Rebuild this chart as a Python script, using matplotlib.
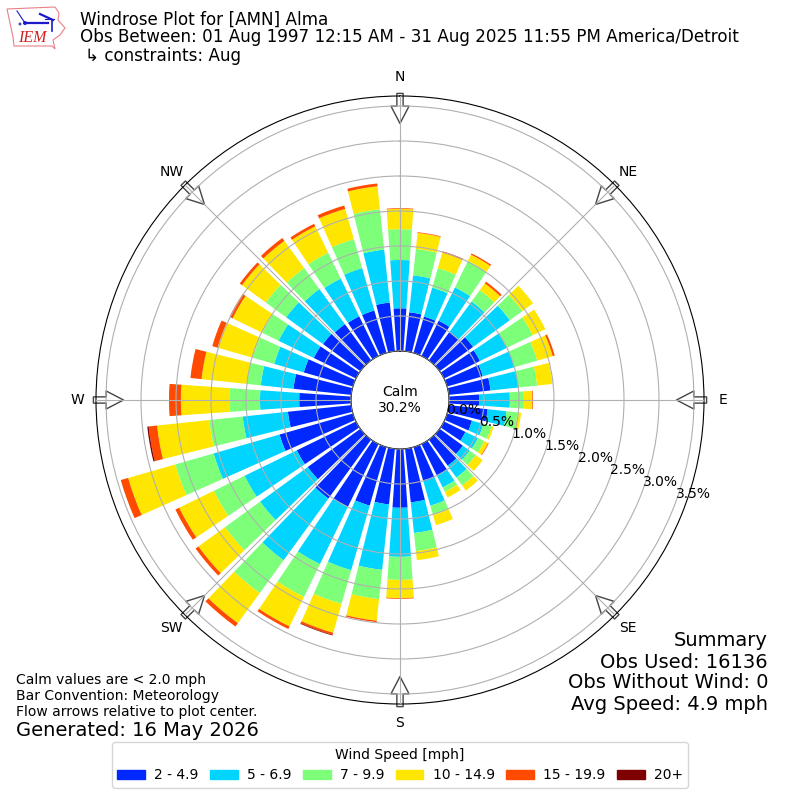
import numpy as np
import matplotlib
matplotlib.use("Agg")
import matplotlib.pyplot as plt
from matplotlib.patches import Patch, Polygon, Circle

directions = list(range(0, 360, 10))
# cumulative percent of observations at or below each speed class, per direction
cum_2_49 = [.61,.56,.54,.56,.50,.59,.57,.53,.60,.43,.56,.37,.34,.41,.46,.50,.51,.77,
            .84,.80,.87,1.00,1.04,.93,.94,1.09,.91,.74,.83,.73,.67,.66,.64,.63,.63,.70]
cum_5_69 = [1.30,1.09,.97,1.09,1.04,1.24,1.00,1.00,1.00,.87,.83,.54,.54,.53,.67,.69,.87,1.21,
            1.54,1.74,1.83,1.91,2.13,1.77,1.77,2.07,1.56,1.30,1.30,1.17,1.23,1.31,1.26,1.23,1.26,1.46]
cum_7_99 = [1.74,1.47,1.26,1.51,1.24,1.46,1.41,1.34,1.27,1.07,.99,.66,.64,.64,.81,.76,1.01,1.47,
            1.87,2.16,2.33,2.43,2.71,2.39,2.26,2.64,2.04,1.74,1.50,1.49,1.49,1.67,1.63,1.64,1.69,2.04]
cum_10_149 = [2.03,1.70,1.49,1.61,1.36,1.65,1.61,1.57,1.49,1.19,1.04,.69,.70,.76,.90,.85,1.16,1.60,
              2.13,2.47,2.76,2.90,3.24,2.86,2.81,3.34,2.79,2.43,2.15,2.01,1.96,2.09,2.11,2.06,2.14,2.37]
cum_15_199 = [2.04,1.71,1.51,1.63,1.39,1.65,1.61,1.60,1.49,1.20,1.04,.69,.71,.76,.90,.85,1.16,1.60,
              2.14,2.49,2.79,2.94,3.30,2.91,2.87,3.45,2.91,2.60,2.31,2.09,2.01,2.13,2.16,2.10,2.19,2.41]
cum_20 = [2.04,1.71,1.51,1.63,1.39,1.65,1.61,1.60,1.49,1.20,1.04,.69,.71,.76,.90,.85,1.16,1.60,
          2.14,2.49,2.80,2.94,3.30,2.91,2.87,3.45,2.93,2.60,2.31,2.09,2.01,2.13,2.16,2.10,2.19,2.41]
speed_labels = ["2 - 4.9", "5 - 6.9", "7 - 9.9", "10 - 14.9", "15 - 19.9", "20+"]
speed_colors = ["#0028ff", "#00d4ff", "#7dff7a", "#ffe600", "#ff4a00", "#7f0000"]
ring_ticks = [0, .5, 1, 1.5, 2, 2.5, 3, 3.5]
compass = ["N", "NE", "E", "SE", "S", "SW", "W", "NW"]

fig = plt.figure(figsize=(8, 8), dpi=100)
ax = fig.add_axes([96/800, 96/800, 608/800, 608/800], projection="polar")
ax.set_theta_zero_location("N")
ax.set_theta_direction(-1)
ax.set_rorigin(-0.7)
ax.set_rlim(0, 3.643)

theta = np.deg2rad(directions)
prev = np.zeros(len(directions))
for cum, color, label in zip([cum_2_49, cum_5_69, cum_7_99, cum_10_149, cum_15_199, cum_20],
                             speed_colors, speed_labels):
    cum = np.array(cum)
    ax.bar(theta, cum - prev, width=np.deg2rad(8), bottom=prev, color=color, linewidth=0, zorder=1.5)
    prev = cum

ax.set_axisbelow(False)
ax.grid(True, color="#b0b0b0", lw=0.8, zorder=2.5)
ax.set_xticks(np.deg2rad(np.arange(0, 360, 45)))
ax.set_xticklabels(compass, fontsize=10)
ax.tick_params(axis="x", pad=3)
ax.set_yticks(ring_ticks)
ax.set_yticklabels([f"{v:.1f}%" for v in ring_ticks], fontsize=10)
ax.set_rlabel_position(110)

for t in np.arange(0, 360, 45):
    ax.annotate("", xy=(np.deg2rad(t), 3.25), xytext=(np.deg2rad(t), 3.68),
                arrowprops=dict(facecolor="white", edgecolor="#444444", lw=1,
                                width=4.5, headwidth=13, headlength=12.5),
                annotation_clip=False, zorder=2)

ax.text(.5, .5, "Calm\n30.2%", transform=ax.transAxes, ha="center", va="center", fontsize=10)

def ftext(x, y, s, **kw):
    fig.text(x/800, 1-y/800, s, va="center", **kw)

ftext(80, 20, "Windrose Plot for [AMN] Alma", fontsize=12.05)
ftext(80, 37, "Obs Between: 01 Aug 1997 12:15 AM - 31 Aug 2025 11:55 PM America/Detroit", fontsize=12.05)
ftext(85, 56, "↳ constraints: Aug", fontsize=12.05)
ftext(16, 680, "Calm values are < 2.0 mph", fontsize=10)
ftext(16, 696, "Bar Convention: Meteorology", fontsize=10)
ftext(16, 712, "Flow arrows relative to plot center.", fontsize=10)
ftext(16, 730, "Generated: 16 May 2026", fontsize=14)
for y, s in [(640, "Summary"), (662, "Obs Used: 16136"), (683, "Obs Without Wind: 0"), (705, "Avg Speed: 4.9 mph")]:
    ftext(768, y, s, fontsize=14, ha="right")

leg = fig.legend(handles=[Patch(color=c, label=l) for c, l in zip(speed_colors, speed_labels)],
                 loc="lower center", bbox_to_anchor=(.5, 12/800), ncol=6, fontsize=10,
                 title="Wind Speed [mph]", title_fontsize=10, borderaxespad=0,
                 columnspacing=0.83, handletextpad=0.65)

# IEM logo
logo = fig.add_axes([0, 0, 1, 1], zorder=10)
logo.set_xlim(0, 800); logo.set_ylim(800, 0); logo.axis("off"); logo.patch.set_alpha(0)
outline = [(7,9),(55,7),(59,13),(58,20),(65,28),(60,35),(53,40),(55,49),(52,46),(14,46),(13,37),(10,23)]
logo.add_patch(Polygon(outline, closed=True, fc="white", ec="#e8808a", lw=.8))
logo.plot([25,48], [23,23], color="#1a1acc", lw=1.6)
logo.plot([17,25], [11,23], color="#1a1acc", lw=.8)
logo.plot([40,53], [14,20], color="#1a1acc", lw=1.6)
logo.plot([45,54], [19,19], color="#1a1acc", lw=.8)
logo.plot([52,52], [20,31], color="#1a1acc", lw=1.2)
logo.add_patch(Circle((25,23), 2, fc="#1a1acc", ec="none"))
logo.add_patch(Circle((20,24), 1.5, fc="#4a4acc", ec="none"))
logo.text(18, 38, "IEM", color="#d42020", family="Liberation Serif", style="italic", fontsize=11.5, va="center")

fig.savefig("out.png", dpi=100)
